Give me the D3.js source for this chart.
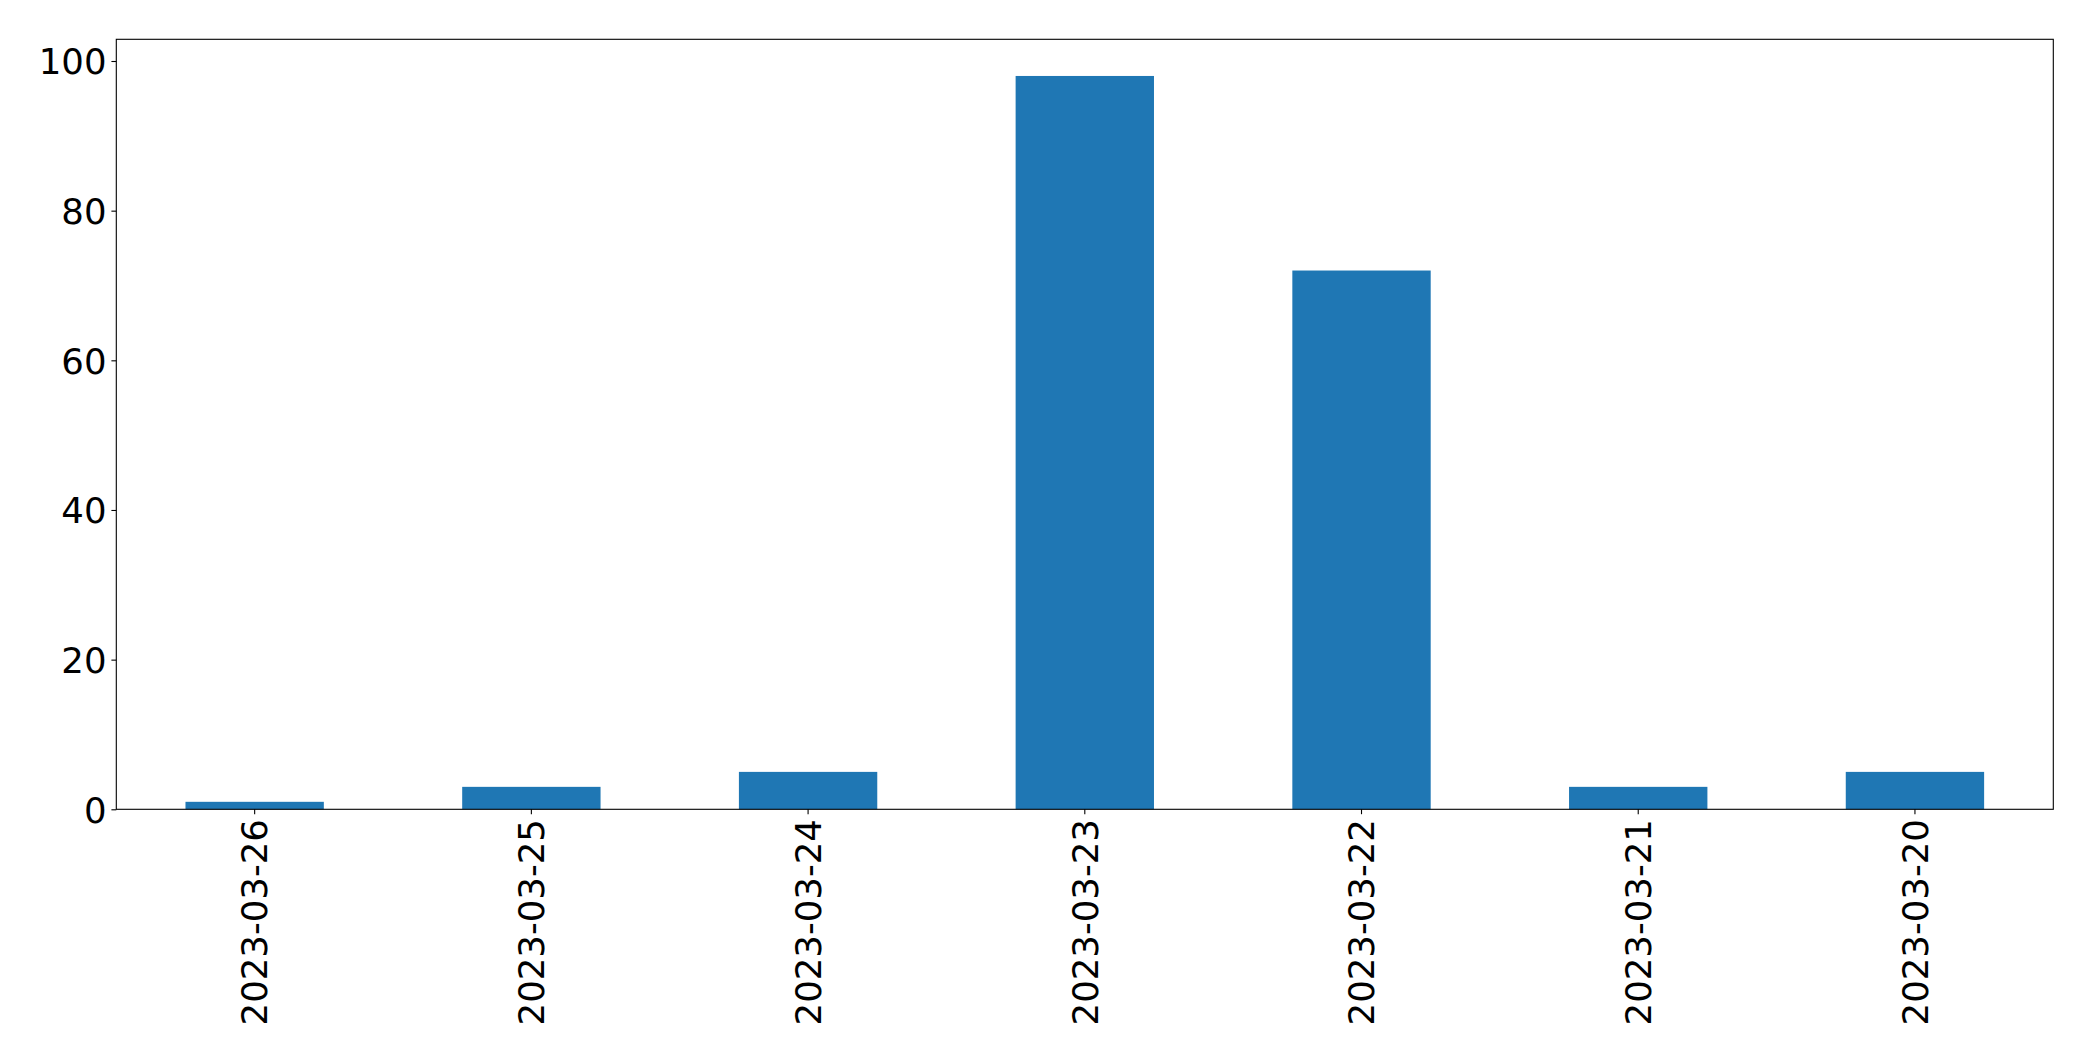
<!DOCTYPE html>
<html>
<head>
<meta charset="utf-8">
<script src="https://cdn.jsdelivr.net/npm/d3@7"></script>
<style>
html, body { margin: 0; padding: 0; background: #fff; }
svg { display: block; }
</style>
</head>
<body>
<div id="chart"></div>
<script>
const categories = ["2023-03-26", "2023-03-25", "2023-03-24", "2023-03-23", "2023-03-22", "2023-03-21", "2023-03-20"];
const values = [1, 3, 5, 98, 72, 3, 5];
const yTicks = [0, 20, 40, 60, 80, 100];

const W = 2093, H = 1061;
const margin = { left: 116.3, right: W - 2053.3, top: 39.3, bottom: H - 809.3 };
const innerW = W - margin.left - margin.right;
const innerH = H - margin.top - margin.bottom;
const fontFamily = "'DejaVu Sans', sans-serif";
const fontSize = 35.5;

const svg = d3.select("#chart").append("svg").attr("width", W).attr("height", H);
const g = svg.append("g").attr("transform", `translate(${margin.left},${margin.top})`);

const x = d3.scaleBand().domain(categories).range([0, innerW]).paddingInner(0.5).paddingOuter(0.25);
const y = d3.scaleLinear().domain([0, d3.max(values) * 1.05]).range([innerH, 0]);

g.selectAll("rect.bar").data(categories).enter().append("rect")
  .attr("class", "bar")
  .attr("x", d => x(d))
  .attr("width", x.bandwidth())
  .attr("y", (d, i) => y(values[i]))
  .attr("height", (d, i) => y(0) - y(values[i]))
  .attr("fill", "#1f77b4");

const yAxis = g.append("g").call(d3.axisLeft(y).tickValues(yTicks).tickSize(4.9).tickPadding(4.9).tickFormat(d3.format("d")));
yAxis.select(".domain").remove();
yAxis.selectAll("line").attr("stroke", "#000").attr("stroke-width", 1.1);
yAxis.selectAll("text").attr("font-family", fontFamily).attr("font-size", fontSize).attr("fill", "#000").attr("dy", "0.36em");

const xAxis = g.append("g").attr("transform", `translate(0,${innerH})`).call(d3.axisBottom(x).tickSize(4.9).tickPadding(0));
xAxis.select(".domain").remove();
xAxis.selectAll("line").attr("stroke", "#000").attr("stroke-width", 1.1);
xAxis.selectAll("text")
  .attr("font-family", fontFamily).attr("font-size", fontSize).attr("fill", "#000")
  .attr("text-anchor", "end")
  .attr("transform", "translate(0,9.8) rotate(-90)")
  .attr("x", 0).attr("y", 0).attr("dy", "0.36em");

g.append("rect").attr("x", 0).attr("y", 0).attr("width", innerW).attr("height", innerH)
  .attr("fill", "none").attr("stroke", "#000").attr("stroke-width", 1.1);
</script>
</body>
</html>
